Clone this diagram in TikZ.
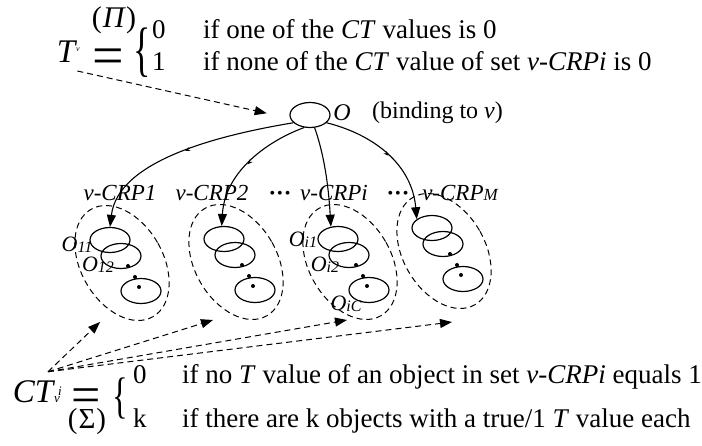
\documentclass[tikz,border=0pt]{standalone}
\usepackage{fontspec}
\usepackage{graphicx}
\setmainfont{Liberation Serif}
\usetikzlibrary{arrows.meta,positioning,shapes.geometric,decorations.markings}

\begin{document}
\begin{tikzpicture}[
  x=1pt, y=-1pt,
  every node/.style={inner sep=0pt},
  txt/.style={font=\fontsize{27}{30}\selectfont, anchor=base west},
  big/.style={font=\fontsize{33}{36}\selectfont},
  crp/.style={font=\fontsize{23}{26}\selectfont\itshape},
  objLbl/.style={font=\fontsize{22}{24}\selectfont\itshape},
  bulletRow/.style={font=\fontsize{16}{16}\selectfont},
  obj/.style={draw, ellipse, line width=1.2pt, minimum width=40pt, minimum height=25pt},
  crpSet/.style={draw, ellipse, dashLine, line width=1pt, minimum width=82pt, minimum height=124pt, rotate=30},
  dotMark/.style={fill, circle, minimum size=4pt},
  dashLine/.style={dash pattern=on 6pt off 4pt},
  arrow/.style={-{Triangle[length=12pt,width=9pt]}, line width=1.1pt},
  dashArrow/.style={-{Triangle[length=12pt,width=9pt]}, dashLine, line width=1pt},
  midtick/.style={postaction={decorate, decoration={markings, mark=at position 0.5 with {\arrow{Stealth[length=5pt,width=4pt]}}}}}
]
\useasboundingbox (0,0) rectangle (702,445);

% T equation
\node[font=\fontsize{30}{32}\selectfont] (piLabel) at (114,20) {(\kern1pt\textit{Π})};
\node[big] (tLabel) at (67,52) {\textit{T}};
\node[font=\fontsize{8}{8}\selectfont\itshape] (tSub) at (78,50) {v};
\node[font=\fontsize{56}{56}\selectfont] (eqTop) at (108,62) {=};
\node (braceTop) at (142,53) {\scalebox{0.6}[1]{\fontsize{60}{60}\selectfont\{}};
\node[txt] (valZero) at (152,38) {0};
\node[txt] (valOne) at (152,70) {1};
\node[txt] (ifZero) at (203,38) {if one of the \textit{CT} values is 0};
\node[txt] (ifOne) at (203,70) {if none of the \textit{CT} value of set \textit{v-CRPi} is 0};

% object O
\node[obj] (topObj) at (310,115) {};
\node[font=\fontsize{24}{26}\selectfont\itshape] (oLabel) at (342,113) {O};
\node[font=\fontsize{24}{26}\selectfont, anchor=west] (bindNote) at (372,113) {(binding to \textit{v})};

% the v-CRP sets
\foreach \g/\x/\y in {1/110/240, 2/224/239, i/338/239, M/432/228} {
  \node[obj] (obj\g-1) at (\x,\y) {};
  \node[obj] (obj\g-2) at (\x+11,\y+16) {};
  \node[obj] (obj\g-3) at (\x+31,\y+51) {};
  \node[dotMark] (dot\g-1) at (\x+18,\y+26) {};
  \node[dotMark] (dot\g-2) at (\x+25,\y+37) {};
  \node[dotMark] (dot\g-3) at (\x+29,\y+47) {};
  \node[crpSet] (set\g) at (\x+12,\y+23) {};
}

\node[crp] (crpOne) at (120,193) {v-CRP1};
\node[crp] (crpTwo) at (212,193) {v-CRP2};
\node[bulletRow] (dotsA) at (280,195) {•\hspace{2pt}•\hspace{2pt}•};
\node[crp] (crpI) at (334,193) {v-CRPi};
\node[bulletRow] (dotsB) at (398,195) {•\hspace{2pt}•\hspace{2pt}•};
\node[crp] (crpM) at (460,193) {v-CRP{\fontsize{17}{17}\selectfont M}};

\node[objLbl] (lblOneOne) at (77,245) {O\raisebox{-1pt}{\fontsize{16}{16}\selectfont 11}};
\node[objLbl] (lblOneTwo) at (98,265) {O\raisebox{-1pt}{\fontsize{16}{16}\selectfont 12}};
\node[objLbl] (lblIOne) at (303,240) {O\raisebox{-1pt}{\fontsize{16}{16}\selectfont i1}};
\node[objLbl] (lblITwo) at (325,265) {O\raisebox{-1pt}{\fontsize{16}{16}\selectfont i2}};
\node[objLbl] (lblIC) at (346,304) {O\raisebox{-1pt}{\fontsize{16}{16}\selectfont iC}};

\draw[arrow, midtick] (topObj.205) .. controls (220,135) and (118,160) .. (obj1-1.north);
\draw[arrow, midtick] (topObj.245) .. controls (270,140) and (225,170) .. (obj2-1.100);
\draw[arrow] (topObj.290) .. controls (326,160) and (329,195) .. (obji-1.120);
\draw[arrow, midtick] (topObj.335) .. controls (375,135) and (412,165) .. (objM-1.150);

\draw[dashArrow, shorten >=24pt] ([yshift=-8pt]tLabel.south east) -- (topObj.190);

% CT equation
\node[big] (ctLabel) at (34,392) {\textit{CT}};
\node[font=\fontsize{13}{13}\selectfont\itshape] (ctSub) at (57,400) {v};
\node[font=\fontsize{13}{13}\selectfont\itshape] (ctSup) at (60,391) {i};
\node[font=\fontsize{52}{52}\selectfont] (eqBot) at (86,401) {=};
\node[font=\fontsize{29}{31}\selectfont] (sigmaLabel) at (87,422) {(\kern1pt Σ\kern1pt)};
\node (braceBot) at (120,398) {\scalebox{0.65}[1]{\fontsize{50}{50}\selectfont\{}};
\node[txt] (valNone) at (133,383) {0};
\node[txt] (valK) at (133,427) {k};
\node[txt] (ifNone) at (182,383) {if no \textit{T} value of an object in set \textit{v-CRPi} equals 1};
\node[txt] (ifK) at (182,427) {if there are k objects with a true/1 \textit{T} value each};

\coordinate (aimOne) at (100,322);
\coordinate (aimTwo) at (213,320);
\coordinate (aimI) at (347,320);
\coordinate (aimM) at (452,322);
\foreach \t in {aimOne,aimTwo,aimI,aimM}
  \draw[dashArrow] ([xshift=14pt,yshift=9pt]ctLabel.north) -- (\t);
\end{tikzpicture}
\end{document}
